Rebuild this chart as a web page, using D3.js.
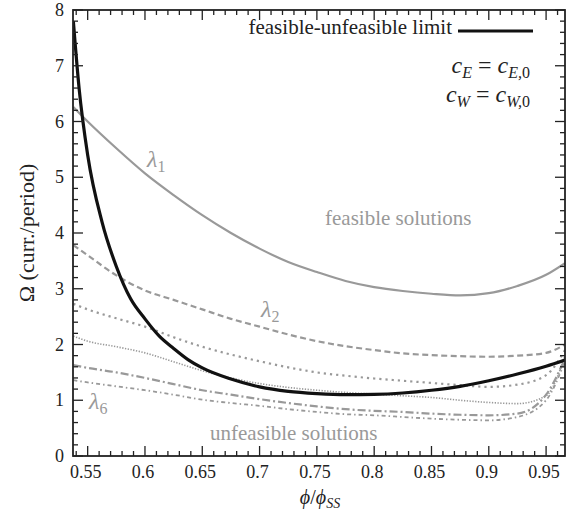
<!DOCTYPE html>
<html><head><meta charset="utf-8">
<script src="https://cdn.jsdelivr.net/npm/d3@7"></script>
<style>body{margin:0;background:#fff}svg{display:block}</style>
</head><body><svg id="c" width="568" height="520" font-family="'Liberation Serif', 'Times New Roman', Times, serif"></svg>
<script>
const phi = [0.5375,0.55,0.575,0.6,0.625,0.65,0.675,0.7,0.725,0.75,0.775,0.8,0.825,0.85,0.875,0.9,0.925,0.95,0.9665];
const lambda1 = [6.26,6.0,5.52,5.07,4.68,4.32,4.0,3.72,3.48,3.3,3.14,3.03,2.96,2.91,2.88,2.92,3.05,3.25,3.46];
const lambda2 = [3.78,3.6,3.24,2.97,2.8,2.63,2.46,2.32,2.18,2.06,1.97,1.9,1.84,1.81,1.79,1.78,1.8,1.85,2.0];
const lambda3 = [2.73,2.63,2.47,2.32,2.13,1.96,1.82,1.7,1.59,1.5,1.44,1.39,1.35,1.31,1.27,1.24,1.28,1.45,1.9];
const lambda4 = [2.15,2.06,1.96,1.85,1.69,1.53,1.4,1.3,1.23,1.18,1.14,1.11,1.08,1.05,1.0,0.96,0.94,1.08,1.8];
const lambda5 = [1.63,1.58,1.5,1.4,1.29,1.18,1.1,1.02,0.95,0.89,0.84,0.81,0.79,0.76,0.74,0.73,0.76,1.1,1.75];
const lambda6 = [1.36,1.32,1.25,1.18,1.1,1.01,0.95,0.9,0.84,0.79,0.75,0.73,0.7,0.67,0.65,0.64,0.7,1.0,1.7];
const limitPhi = [0.5375,0.5425,0.55,0.5625,0.575,0.5875,0.6,0.6125,0.625,0.6375,0.65,0.675,0.7,0.725,0.75,0.775,0.8,0.825,0.85,0.875,0.9,0.925,0.95,0.9665];
const limitVal = [7.8,6.6,5.4,4.2,3.4,2.82,2.46,2.15,1.93,1.73,1.58,1.38,1.24,1.16,1.12,1.1,1.105,1.13,1.18,1.25,1.35,1.47,1.61,1.72];
const xTicks = [0.55,0.6,0.65,0.7,0.75,0.8,0.85,0.9,0.95];
const yTicks = [0,1,2,3,4,5,6,7,8];

const svg = d3.select("#c");
const L=73, R=565, T=10, B=456;
const x = d3.scaleLinear().domain([0.5372,0.9665]).range([L,R]);
const y = d3.scaleLinear().domain([0,8]).range([B,T]);
const gray="#999";
const FF = "'Liberation Serif', 'Times New Roman', Times, serif";

svg.append("clipPath").attr("id","clip").append("rect").attr("x",L).attr("y",T).attr("width",R-L).attr("height",B-T);

const series = [
  {v:lambda1, dash:null, w:2.2},
  {v:lambda2, dash:"6,3.5", w:2.2},
  {v:lambda3, dash:"2.2,4", w:2.2},
  {v:lambda4, dash:"1.3,1.5", w:1.6},
  {v:lambda5, dash:"8,3,2,3", w:2.2},
  {v:lambda6, dash:"4,3,1.5,3", w:1.8}
];
const line = d3.line().x(d=>x(d[0])).y(d=>y(d[1])).curve(d3.curveMonotoneX);
const g = svg.append("g").attr("clip-path","url(#clip)");
series.forEach(s=>{
  g.append("path").attr("d", line(phi.map((p,i)=>[p,s.v[i]])))
   .attr("fill","none").attr("stroke",gray).attr("stroke-width",s.w)
   .attr("stroke-dasharray",s.dash);
});
g.append("path").attr("d", line(limitPhi.map((p,i)=>[p,limitVal[i]])))
  .attr("fill","none").attr("stroke","#111").attr("stroke-width",3.2);

const ax = svg.append("g").attr("stroke","#222");
const xMinor = d3.range(54,97).map(v=>v/100);
const yMinor = d3.range(0,41).map(v=>v/5);
xMinor.forEach(v=>{
  const major = Math.abs(v*20-Math.round(v*20))<1e-6;
  const len = major?10:5;
  ax.append("line").attr("x1",x(v)).attr("x2",x(v)).attr("y1",B).attr("y2",B-len).attr("stroke-width",1.3);
  ax.append("line").attr("x1",x(v)).attr("x2",x(v)).attr("y1",T).attr("y2",T+len).attr("stroke-width",1.3);
});
yMinor.forEach(v=>{
  const major = Math.abs(v-Math.round(v))<1e-6;
  const len = major?10:5;
  ax.append("line").attr("y1",y(v)).attr("y2",y(v)).attr("x1",L).attr("x2",L+len).attr("stroke-width",1.3);
  ax.append("line").attr("y1",y(v)).attr("y2",y(v)).attr("x1",R).attr("x2",R-len).attr("stroke-width",1.3);
});
svg.append("rect").attr("x",L).attr("y",T).attr("width",R-L).attr("height",B-T)
  .attr("fill","none").attr("stroke","#222").attr("stroke-width",1.8);

function txt(){ return svg.append("text").attr("font-family",FF); }

xTicks.forEach(d=>{
  txt().attr("x",x(d)-2).attr("y",478).attr("text-anchor","middle")
    .attr("font-size",18).attr("fill","#222").text(String(d));
});
yTicks.forEach(d=>{
  txt().attr("x",64).attr("y",y(d)+6).attr("text-anchor","end")
    .attr("font-size",18).attr("fill","#222").text(d);
});

const xt = txt().attr("x",320).attr("y",504).attr("text-anchor","middle")
  .attr("font-size",20).attr("fill","#222");
xt.append("tspan").attr("font-style","italic").text("ϕ");
xt.append("tspan").text("/");
xt.append("tspan").attr("font-style","italic").text("ϕ");
xt.append("tspan").attr("font-style","italic").attr("font-size",14).attr("dy",4).text("SS");

txt().attr("transform","translate(34,233) rotate(-90)").attr("text-anchor","middle")
  .attr("font-size",22).attr("fill","#222").text("Ω (curr./period)");

txt().attr("x",452).attr("y",34).attr("text-anchor","end").attr("font-size",21)
  .attr("fill","#222").text("feasible-unfeasible limit");
svg.append("line").attr("x1",458).attr("x2",533).attr("y1",31).attr("y2",31)
  .attr("stroke","#111").attr("stroke-width",3.2);

function cEq(yPos, sub){
  const t = txt().attr("x",530).attr("y",yPos).attr("text-anchor","end")
    .attr("font-size",24).attr("fill","#222");
  t.append("tspan").attr("font-style","italic").text("c");
  t.append("tspan").attr("font-style","italic").attr("font-size",16).attr("dy",5).text(sub);
  t.append("tspan").attr("dy",-5).text(" = ");
  t.append("tspan").attr("font-style","italic").text("c");
  t.append("tspan").attr("font-style","italic").attr("font-size",16).attr("dy",5).text(sub+",");
  t.append("tspan").attr("font-size",16).text("0");
}
cEq(73,"E");
cEq(102,"W");

txt().attr("x",325).attr("y",225).attr("font-size",21).attr("fill",gray).text("feasible solutions");
txt().attr("x",210).attr("y",440).attr("font-size",21).attr("fill",gray).text("unfeasible solutions");
function lam(xp, yp, n){
  const t = txt().attr("x",xp).attr("y",yp).attr("font-size",24).attr("fill",gray);
  t.append("tspan").attr("font-style","italic").text("λ");
  t.append("tspan").attr("font-size",16).attr("dy",5).text(n);
}
lam(147,167,"1");
lam(261,317,"2");
lam(89,409,"6");
</script></body></html>
